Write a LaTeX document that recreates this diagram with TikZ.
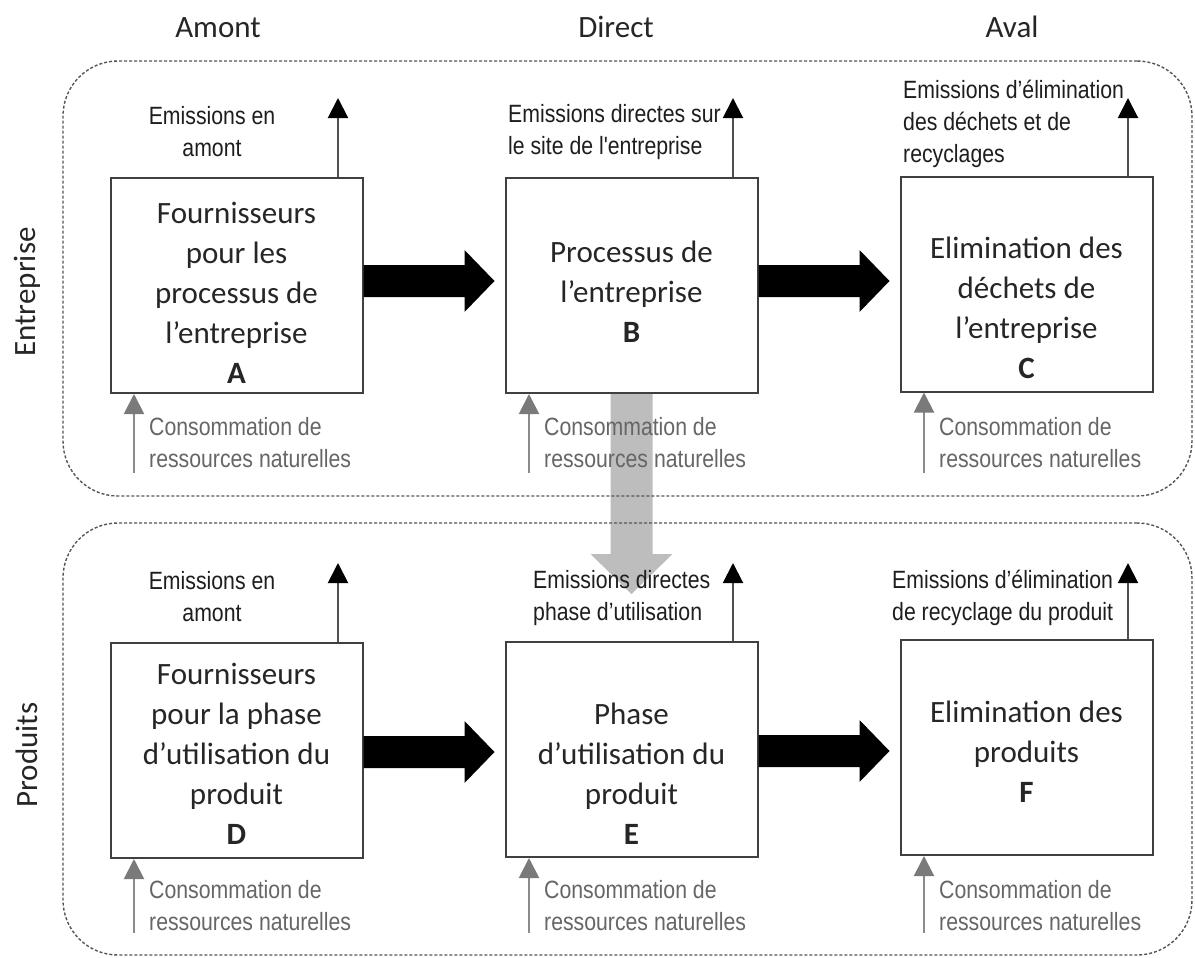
\documentclass[tikz,border=0pt]{standalone}
\usepackage{fontspec}
\setmainfont{Carlito}
\newfontfamily\narrowsans[FakeStretch=0.85]{Liberation Sans}
\usetikzlibrary{arrows.meta,calc}
\definecolor{boxline}{HTML}{404040}
\definecolor{frameline}{HTML}{555555}
\definecolor{emline}{HTML}{505050}
\definecolor{consline}{HTML}{8A8A8A}
\definecolor{constip}{HTML}{7A7A7A}
\definecolor{constext}{HTML}{666666}
\definecolor{emtext}{HTML}{1E1E1E}
\definecolor{graya}{HTML}{BDBDBD}
\newcommand\fatarrow[3]{%
  \fill[black] let \p1=(#1.east), \p2=(#2.west) in
    (\x1,\y1+#3+16pt) -- (\x2-40pt,\y1+#3+16pt) -- (\x2-40pt,\y1+#3+31pt)
    -- (\x2-10pt,\y1+#3) -- (\x2-40pt,\y1+#3-31pt) -- (\x2-40pt,\y1+#3-16pt)
    -- (\x1,\y1+#3-16pt) -- cycle;}
\begin{document}
\begin{tikzpicture}[x=1pt,y=-1pt,
  box/.style={draw=boxline, line width=2pt, fill=white, minimum width=252pt, minimum height=215pt, inner sep=0pt},
  boxtext/.style={font={\fontsize{31}{40}\selectfont}, align=center, inner sep=0pt, text=black!85},
  head/.style={font={\fontsize{31}{40}\selectfont}, inner sep=0pt, text=black!85},
  frame/.style={draw=frameline, line width=1.4pt, dash pattern=on 3pt off 2pt, rounded corners=55pt, inner sep=0pt},
  emis/.style={draw=emline, line width=2pt, -{Triangle[length=20pt,width=20pt,color=black]}},
  cons/.style={draw=consline, line width=2pt, -{Triangle[length=20pt,width=20pt,color=constip]}},
  emlabel/.style={font={\narrowsans\fontsize{25}{32}\selectfont}, text=emtext, inner sep=0pt},
  conslabel/.style={font={\narrowsans\fontsize{25}{32}\selectfont}, text=constext, inner sep=0pt, align=left, anchor=west}]
\useasboundingbox (0,0) rectangle (1195,958);
\fill[white] (0,0) rectangle (1195,958);

% boxes
\node[box] (A) at (236.5,285.5) {};
\node[box] (B) at (631.5,285.5) {};
\node[box] (C) at (1026.5,284) {};
\node[box] (D) at (236.5,750.5) {};
\node[box] (E) at (631.5,749.5) {};
\node[box] (F) at (1026.5,747.5) {};

% big grey arrow
\fill[graya] let \p1=(B.south), \p2=(E.north) in
  (\x1-21pt,\y1) -- (\x1+21pt,\y1) -- (\x1+21pt,\y2+87pt) -- (\x1+41pt,\y2+87pt)
  -- (\x1,\y2+47pt) -- (\x1-41pt,\y2+87pt) -- (\x1-21pt,\y2+87pt) -- cycle;

% dashed frames
\node[frame, minimum width=1129pt, minimum height=435pt] (frameTop) at (627.5,278.5) {};
\node[frame, minimum width=1129pt, minimum height=432pt] (frameBot) at (627.5,739) {};

% column and row headings
\node[head, anchor=base] (hAmont) at (218,38) {Amont};
\node[head, anchor=base] (hDirect) at (616,38) {Direct};
\node[head, anchor=base] (hAval) at (1012,38) {Aval};
\node[head, rotate=90] (hEnt) at (27,292) {Entreprise};
\node[head, rotate=90] (hProd) at (27,755) {Produits};

% box texts
\node[boxtext] (tA) at (236.5,293) {Fournisseurs\\pour les\\processus de\\l’entreprise\\\textbf{A}};
\node[boxtext] (tB) at (631.5,292) {Processus de\\l’entreprise\\\textbf{B}};
\node[boxtext] (tC) at (1026.5,307.5) {Elimination des\\déchets de\\l’entreprise\\\textbf{C}};
\node[boxtext] (tD) at (236.5,754) {Fournisseurs\\pour la phase\\d’utilisation du\\produit\\\textbf{D}};
\node[boxtext] (tE) at (631.5,774) {Phase\\d’utilisation du\\produit\\\textbf{E}};
\node[boxtext] (tF) at (1026.5,752) {Elimination des\\produits\\\textbf{F}};

% fat black arrows
\fatarrow{A}{B}{4.5pt}
\fatarrow{B}{C}{4.5pt}
\fatarrow{D}{E}{-1.5pt}
\fatarrow{E}{F}{-1.5pt}

% emission arrows
\coordinate (eA) at (338,98);
\coordinate (eB) at (733,98);
\coordinate (eC) at (1128,98);
\coordinate (eD) at (338,563);
\coordinate (eE) at (733,563);
\coordinate (eF) at (1128,563);
\draw[emis] (A.north -| eA) -- (eA);
\draw[emis] (B.north -| eB) -- (eB);
\draw[emis] (C.north -| eC) -- (eC);
\draw[emis] (D.north -| eD) -- (eD);
\draw[emis] (E.north -| eE) -- (eE);
\draw[emis] (F.north -| eF) -- (eF);

% emission labels
\node[emlabel, align=center] (lA) at (212,132) {Emissions en\\amont};
\node[emlabel, align=left, anchor=west] (lB) at (508,132) {Emissions directes sur\\le site de l'entreprise};
\node[emlabel, align=left, anchor=west] (lC) at (903,124) {Emissions d’élimination\\des déchets et de\\recyclages};
\node[emlabel, align=center] (lD) at (212,597) {Emissions en\\amont};
\node[emlabel, align=left, anchor=west] (lE) at (533,598) {Emissions directes\\phase d’utilisation};
\node[emlabel, align=left, anchor=west] (lF) at (892,598) {Emissions d’élimination\\de recyclage du produit};

% consumption arrows
\coordinate (cA) at (134,473);
\coordinate (cB) at (529,473);
\coordinate (cC) at (924,473);
\coordinate (cD) at (134,933);
\coordinate (cE) at (529,933);
\coordinate (cF) at (924,933);
\draw[cons] (cA) -- (cA |- A.south);
\draw[cons] (cB) -- (cB |- B.south);
\draw[cons] (cC) -- (cC |- C.south);
\draw[cons] (cD) -- (cD |- D.south);
\draw[cons] (cE) -- (cE |- E.south);
\draw[cons] (cF) -- (cF |- F.south);

% consumption labels
\node[conslabel] (kA) at (149,443) {Consommation de\\ressources naturelles};
\node[conslabel] (kB) at (544,443) {Consommation de\\ressources naturelles};
\node[conslabel] (kC) at (939,443) {Consommation de\\ressources naturelles};
\node[conslabel] (kD) at (149,906) {Consommation de\\ressources naturelles};
\node[conslabel] (kE) at (544,906) {Consommation de\\ressources naturelles};
\node[conslabel] (kF) at (939,906) {Consommation de\\ressources naturelles};
\end{tikzpicture}
\end{document}
